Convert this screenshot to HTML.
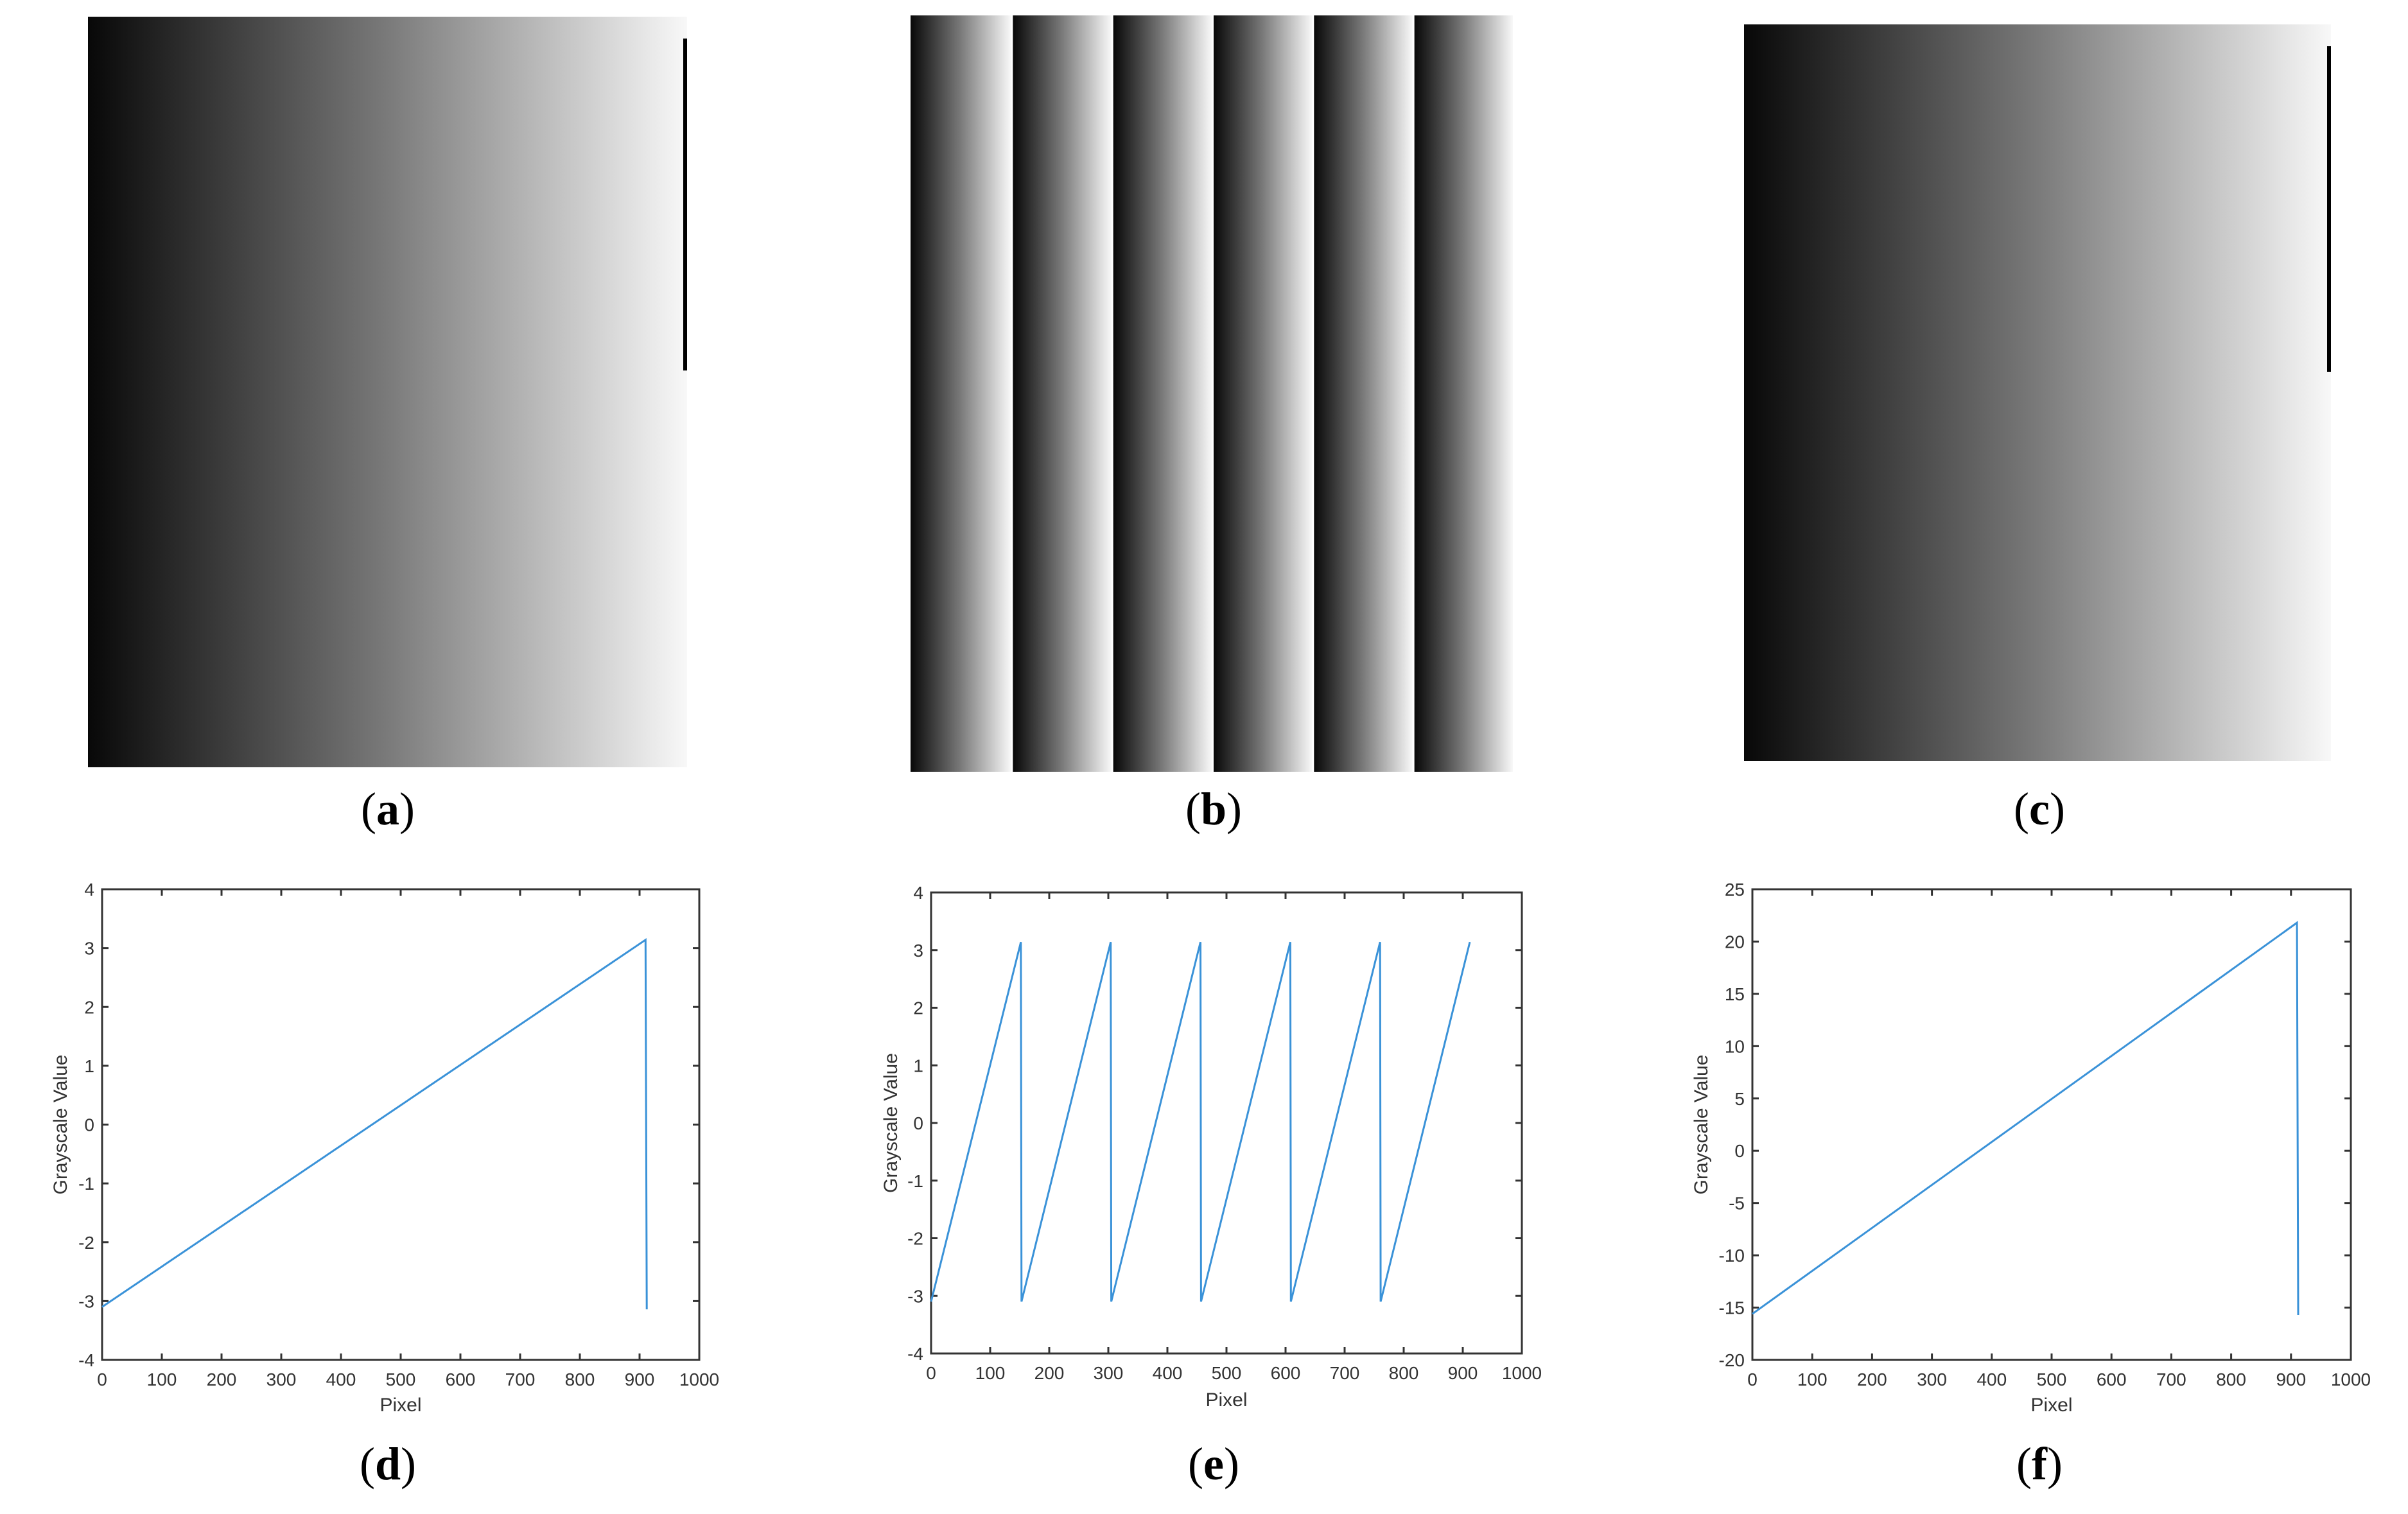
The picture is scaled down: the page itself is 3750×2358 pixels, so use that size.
<!DOCTYPE html>
<html><head><meta charset="utf-8"><style>
html,body{margin:0;padding:0;background:#fff;}
svg{display:block;}
</style></head><body>
<svg id="fig" xmlns="http://www.w3.org/2000/svg" width="3750" height="2358" viewBox="0 0 3750 2358">
<defs>
<linearGradient id="gr" x1="0" y1="0" x2="1" y2="0">
<stop offset="0" stop-color="#080808"/><stop offset="0.5" stop-color="#7a7a7a"/><stop offset="1" stop-color="#f8f8f8"/>
</linearGradient>
</defs>
<rect x="137" y="26" width="933" height="1169" fill="url(#gr)"/>
<rect x="1064" y="60" width="6" height="517" fill="#000"/>
<g id="imgb"></g>
<rect x="2716" y="38" width="914" height="1147" fill="url(#gr)"/>
<rect x="3624" y="72" width="6" height="507" fill="#000"/>
<g font-family="'Liberation Serif',serif" font-size="72" text-anchor="middle" fill="#000">
<text x="604" y="1284">(<tspan font-weight="bold">a</tspan>)</text>
<text x="1890" y="1284">(<tspan font-weight="bold">b</tspan>)</text>
<text x="3176" y="1284">(<tspan font-weight="bold">c</tspan>)</text>
<text x="604" y="2304">(<tspan font-weight="bold">d</tspan>)</text>
<text x="1890" y="2304">(<tspan font-weight="bold">e</tspan>)</text>
<text x="3176" y="2304">(<tspan font-weight="bold">f</tspan>)</text>
</g>
<g id="plots"></g>
</svg>
<script>
// data
const xTicks = [0,100,200,300,400,500,600,700,800,900,1000];
const yTicksDE = [-4,-3,-2,-1,0,1,2,3,4];
const yTicksF = [-20,-15,-10,-5,0,5,10,15,20,25];
const xD = [0, 910, 912];
const yD = [-3.1, 3.14, -3.14];
const xE = [0,152,153,304,305,456,457,608,609,760,761,912];
const yE = [-3.1,3.14,-3.1,3.14,-3.1,3.14,-3.1,3.14,-3.1,3.14,-3.1,3.14];
const xF = [0, 910, 912];
const yF = [-15.6, 21.8, -15.7];
const stripeCount = 6;

const NS = 'http://www.w3.org/2000/svg';
function mk(tag, attrs, parent){const e=document.createElementNS(NS,tag);for(const k in attrs)e.setAttribute(k,attrs[k]);parent.appendChild(e);return e;}

const gb = document.getElementById('imgb');
const bL=1418,bR=2356,bT=24,bB=1202, sw=(bR-bL)/stripeCount;
for(let i=0;i<stripeCount;i++){
  const r = mk('rect',{x:bL+i*sw+(i?3:0),y:bT,width:sw-(i?3:0),height:bB-bT,fill:'url(#gr)'},gb);
  
  
}

function plot(id, L,R,T,B, ymin,ymax,yt, xs,ys, ylabX, xlabY){
  const g = mk('g',{},document.getElementById('plots'));
  
  
  const sx = v=>L+(v-0)/(1000-0)*(R-L);
  const sy = v=>B-(v-ymin)/(ymax-ymin)*(B-T);
  const box = mk('rect',{x:L,y:T,width:R-L,height:B-T,fill:'none',stroke:'#333',"stroke-width":3},g);
  
  
  xTicks.forEach(t=>{
    const x=sx(t);
    mk('line',{x1:x,y1:B,x2:x,y2:B-10,stroke:'#333','stroke-width':3},g);
    mk('line',{x1:x,y1:T,x2:x,y2:T+10,stroke:'#333','stroke-width':3},g);
    const tx=mk('text',{x:x,y:B+40,'font-family':"'Liberation Sans',sans-serif",'font-size':28,'text-anchor':'middle',fill:'#333'},g);
    tx.textContent=t;
    
    
  });
  yt.forEach(t=>{
    const y=sy(t);
    mk('line',{x1:L,y1:y,x2:L+10,y2:y,stroke:'#333','stroke-width':3},g);
    mk('line',{x1:R,y1:y,x2:R-10,y2:y,stroke:'#333','stroke-width':3},g);
    const tx=mk('text',{x:L-12,y:y+10,'font-family':"'Liberation Sans',sans-serif",'font-size':28,'text-anchor':'end',fill:'#333'},g);
    tx.textContent=t;
    
    
  });
  const xl=mk('text',{x:(L+R)/2,y:xlabY,'font-family':"'Liberation Sans',sans-serif",'font-size':30,'text-anchor':'middle',fill:'#333'},g);
  xl.textContent='Pixel';
  
  
  const yl=mk('text',{x:ylabX,y:(T+B)/2,'font-family':"'Liberation Sans',sans-serif",'font-size':30,'text-anchor':'middle',fill:'#333',transform:`rotate(-90 ${ylabX} ${(T+B)/2})`},g);
  yl.textContent='Grayscale Value';
  
  
  const pts = xs.map((x,i)=>sx(x).toFixed(1)+','+sy(ys[i]).toFixed(1)).join(' ');
  const pl=mk('polyline',{points:pts,fill:'none',stroke:'#3a92d8','stroke-width':3},g);
  
  
}
plot('d',159,1089,1385,2118,-4,4,yTicksDE,xD,yD,104,2198);
plot('e',1450,2370,1390,2108,-4,4,yTicksDE,xE,yE,1397,2190);
plot('f',2729,3661,1385,2118,-20,25,yTicksF,xF,yF,2659,2198);
</script>
</body></html>
